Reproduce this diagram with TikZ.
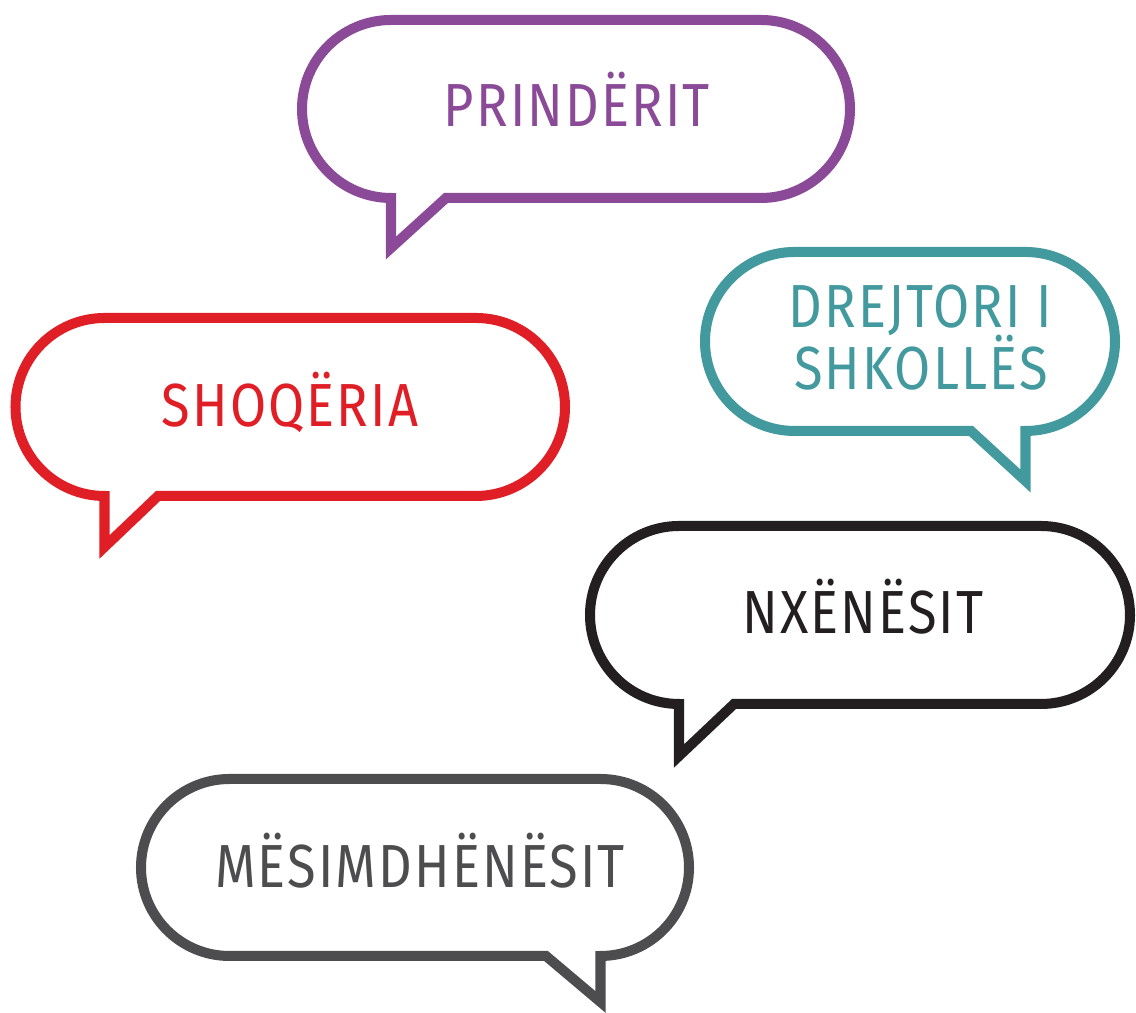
\documentclass[tikz,border=0pt]{standalone}
\usepackage{fontspec}
\newfontfamily\bubblefont[FakeStretch=0.86, LetterSpace=3.5]{Fira Sans}
\usepackage{tikz}
\usetikzlibrary{calc}
\definecolor{prindpurple}{RGB}{139,74,151}
\definecolor{shoqred}{RGB}{224,30,38}
\definecolor{drejteal}{RGB}{67,154,158}
\definecolor{nxenblack}{RGB}{35,31,32}
\definecolor{mesimgray}{RGB}{77,77,79}
\tikzset{bubble/.style={draw=#1, line width=2.85pt, line join=miter, fill=white}}
\tikzset{bubbletext/.style={anchor=base, inner sep=0pt, text=#1,
  font=\bubblefont\fontsize{17.3}{17.6}\selectfont}}

\begin{document}
\begin{tikzpicture}[x=0.01cm, y=0.01cm]
  \useasboundingbox (0,0) rectangle (1136,1013);
  % prinderit
  \draw[bubble=prindpurple] (391,815) -- (391,765) -- (446,815) -- (761,815)
    arc[start angle=-90, end angle=90, radius=89] -- (391,993)
    arc[start angle=90, end angle=270, radius=89] -- cycle;
  \node[bubbletext=prindpurple] (prinderit) at (577,886) {PRINDËRIT};
  % shoqeria
  \draw[bubble=shoqred] (104.5,517) -- (104.5,466) -- (158,517) -- (476,517)
    arc[start angle=-90, end angle=90, radius=89] -- (104.5,695)
    arc[start angle=90, end angle=270, radius=89] -- cycle;
  \node[bubbletext=shoqred] (shoqeria) at (290,586) {SHOQËRIA};
  % drejtori
  \draw[bubble=drejteal] (794.5,582) -- (971,582) -- (1025.5,532) -- (1025.5,582)
    arc[start angle=-90, end angle=90, radius=89.5] -- (794.5,761)
    arc[start angle=90, end angle=270, radius=89.5] -- cycle;
  \node[bubbletext=drejteal] (drejtori) at (920.5,685) {DREJTORI I};
  \node[bubbletext=drejteal] (shkolles) at (921,623) {SHKOLLËS};
  % nxenesit
  \draw[bubble=nxenblack] (679,309) -- (679,257) -- (734,309) -- (1041,309)
    arc[start angle=-90, end angle=90, radius=89] -- (679,487)
    arc[start angle=90, end angle=270, radius=89] -- cycle;
  \node[bubbletext=nxenblack] (nxenesit) at (863,379) {NXËNËSIT};
  % mesimdhenesit
  \draw[bubble=mesimgray] (229.5,57) -- (546,57) -- (600.5,11) -- (600.5,57)
    arc[start angle=-90, end angle=90, radius=88.5] -- (229.5,234)
    arc[start angle=90, end angle=270, radius=88.5] -- cycle;
  \node[bubbletext=mesimgray] (mesimdhenesit) at (420,125) {MËSIMDHËNËSIT};
\end{tikzpicture}
\end{document}
